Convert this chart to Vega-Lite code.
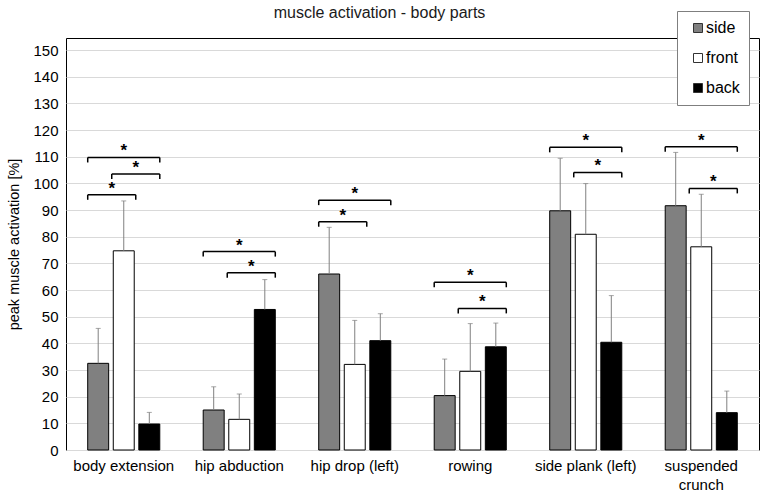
{
  "$schema": "https://vega.github.io/schema/vega-lite/v6.json",
  "width": 693,
  "height": 412,
  "autosize": {"type": "none"},
  "padding": {"left": 66, "top": 38, "right": 7, "bottom": 50},
  "config": {
    "font": "Liberation Sans",
    "view": {"stroke": "#000", "strokeWidth": 1},
    "axisY": {
      "titleFontSize": 14.5,
      "titleFontWeight": "normal",
      "titleColor": "#000",
      "titlePadding": 11,
      "labelFontSize": 15,
      "labelColor": "#000",
      "labelPadding": 8,
      "ticks": false,
      "domain": false,
      "gridColor": "#d9d9d9",
      "gridWidth": 1
    }
  },
  "title": {"text": "muscle activation - body parts", "fontSize": 16, "fontWeight": "normal", "color": "#1a1a1a", "dx": -33, "dy": 20, "offset": 10},
  "datasets": {
    "bars": [
      {"exercise": "body extension", "position": "side", "mean": 32.5, "upper": 45.6},
      {"exercise": "body extension", "position": "front", "mean": 74.7, "upper": 93.4},
      {"exercise": "body extension", "position": "back", "mean": 9.75, "upper": 14.1},
      {"exercise": "hip abduction", "position": "side", "mean": 15.0, "upper": 23.7},
      {"exercise": "hip abduction", "position": "front", "mean": 11.5, "upper": 21.0},
      {"exercise": "hip abduction", "position": "back", "mean": 52.7, "upper": 63.9},
      {"exercise": "hip drop (left)", "position": "side", "mean": 66.0, "upper": 83.5},
      {"exercise": "hip drop (left)", "position": "front", "mean": 32.1, "upper": 48.6},
      {"exercise": "hip drop (left)", "position": "back", "mean": 41.0, "upper": 51.1},
      {"exercise": "rowing", "position": "side", "mean": 20.4, "upper": 34.1},
      {"exercise": "rowing", "position": "front", "mean": 29.5, "upper": 47.4},
      {"exercise": "rowing", "position": "back", "mean": 38.7, "upper": 47.6},
      {"exercise": "side plank (left)", "position": "side", "mean": 89.7, "upper": 109.4},
      {"exercise": "side plank (left)", "position": "front", "mean": 80.9, "upper": 99.9},
      {"exercise": "side plank (left)", "position": "back", "mean": 40.4, "upper": 57.9},
      {"exercise": "suspended crunch", "position": "side", "mean": 91.6, "upper": 111.6},
      {"exercise": "suspended crunch", "position": "front", "mean": 76.2, "upper": 95.9},
      {"exercise": "suspended crunch", "position": "back", "mean": 14.0, "upper": 22.1}
    ],
    "brackets": [
      {"exercise": "body extension", "id": "be1", "pos": "p0", "y": 109.7},
      {"exercise": "body extension", "id": "be1", "pos": "p6", "y": 109.7},
      {"exercise": "body extension", "id": "be2", "pos": "p2", "y": 103.5},
      {"exercise": "body extension", "id": "be2", "pos": "p6", "y": 103.5},
      {"exercise": "body extension", "id": "be3", "pos": "p0", "y": 95.7},
      {"exercise": "body extension", "id": "be3", "pos": "p4", "y": 95.7},
      {"exercise": "hip abduction", "id": "ha1", "pos": "p0", "y": 74.4},
      {"exercise": "hip abduction", "id": "ha1", "pos": "p6", "y": 74.4},
      {"exercise": "hip abduction", "id": "ha2", "pos": "p2", "y": 66.5},
      {"exercise": "hip abduction", "id": "ha2", "pos": "p6", "y": 66.5},
      {"exercise": "hip drop (left)", "id": "hd1", "pos": "p0", "y": 93.7},
      {"exercise": "hip drop (left)", "id": "hd1", "pos": "p6", "y": 93.7},
      {"exercise": "hip drop (left)", "id": "hd2", "pos": "p0", "y": 85.6},
      {"exercise": "hip drop (left)", "id": "hd2", "pos": "p4", "y": 85.6},
      {"exercise": "rowing", "id": "ro1", "pos": "p0", "y": 62.9},
      {"exercise": "rowing", "id": "ro1", "pos": "p6", "y": 62.9},
      {"exercise": "rowing", "id": "ro2", "pos": "p2", "y": 53.1},
      {"exercise": "rowing", "id": "ro2", "pos": "p6", "y": 53.1},
      {"exercise": "side plank (left)", "id": "sp1", "pos": "p0", "y": 113.5},
      {"exercise": "side plank (left)", "id": "sp1", "pos": "p6", "y": 113.5},
      {"exercise": "side plank (left)", "id": "sp2", "pos": "p2", "y": 104.1},
      {"exercise": "side plank (left)", "id": "sp2", "pos": "p6", "y": 104.1},
      {"exercise": "suspended crunch", "id": "sc1", "pos": "p0", "y": 113.7},
      {"exercise": "suspended crunch", "id": "sc1", "pos": "p6", "y": 113.7},
      {"exercise": "suspended crunch", "id": "sc2", "pos": "p2", "y": 98.1},
      {"exercise": "suspended crunch", "id": "sc2", "pos": "p6", "y": 98.1}
    ],
    "stars": [
      {"exercise": "body extension", "pos": "p3", "y": 109.7, "label": "*"},
      {"exercise": "body extension", "pos": "p4", "y": 103.5, "label": "*"},
      {"exercise": "body extension", "pos": "p2", "y": 95.7, "label": "*"},
      {"exercise": "hip abduction", "pos": "p3", "y": 74.4, "label": "*"},
      {"exercise": "hip abduction", "pos": "p4", "y": 66.5, "label": "*"},
      {"exercise": "hip drop (left)", "pos": "p3", "y": 93.7, "label": "*"},
      {"exercise": "hip drop (left)", "pos": "p2", "y": 85.6, "label": "*"},
      {"exercise": "rowing", "pos": "p3", "y": 62.9, "label": "*"},
      {"exercise": "rowing", "pos": "p4", "y": 53.1, "label": "*"},
      {"exercise": "side plank (left)", "pos": "p3", "y": 113.5, "label": "*"},
      {"exercise": "side plank (left)", "pos": "p4", "y": 104.1, "label": "*"},
      {"exercise": "suspended crunch", "pos": "p3", "y": 113.7, "label": "*"},
      {"exercise": "suspended crunch", "pos": "p4", "y": 98.1, "label": "*"}
    ]
  },
  "encoding": {
    "x": {
      "field": "exercise",
      "type": "nominal",
      "sort": ["body extension", "hip abduction", "hip drop (left)", "rowing", "side plank (left)", "suspended crunch"],
      "scale": {"paddingInner": 0.376, "paddingOuter": 0.188},
      "axis": {
        "title": null,
        "labelAngle": 0,
        "labelFontSize": 15,
        "labelColor": "#000",
        "ticks": false,
        "domain": false,
        "labelPadding": 8,
        "labelLineHeight": 19,
        "labelExpr": "datum.value == 'suspended crunch' ? ['suspended', 'crunch'] : datum.value"
      }
    }
  },
  "layer": [
    {
      "data": {"name": "bars"},
      "mark": {"type": "bar", "stroke": "#000", "strokeWidth": 1},
      "encoding": {
        "xOffset": {"field": "position", "type": "nominal", "sort": ["side", "front", "back"], "scale": {"domain": ["side", "front", "back"], "paddingInner": 0.18, "paddingOuter": 0}},
        "y": {
          "field": "mean",
          "type": "quantitative",
          "scale": {"domain": [0, 154.5], "nice": false},
          "axis": {"title": "peak muscle activation [%]", "values": [0, 10, 20, 30, 40, 50, 60, 70, 80, 90, 100, 110, 120, 130, 140, 150]}
        },
        "fill": {
          "field": "position",
          "type": "nominal",
          "scale": {"domain": ["side", "front", "back"], "range": ["#808080", "#ffffff", "#000000"]},
          "legend": {
            "title": null,
            "orient": "none",
            "legendX": 611,
            "legendY": -27,
            "symbolType": "square",
            "symbolSize": 81,
            "symbolStrokeColor": "#333",
            "symbolStrokeWidth": 1,
            "symbolOffset": 4,
            "labelFontSize": 16,
            "labelColor": "#000",
            "labelOffset": 0,
            "columnPadding": 0,
            "strokeColor": "#7f7f7f",
            "fillColor": "#ffffff",
            "padding": 9,
            "rowPadding": 14
          }
        }
      }
    },
    {
      "data": {"name": "bars"},
      "mark": {"type": "rule", "color": "#808080", "strokeWidth": 1},
      "encoding": {
        "xOffset": {"field": "position", "type": "nominal", "sort": ["side", "front", "back"], "scale": {"domain": ["side", "front", "back"], "paddingInner": 0.18, "paddingOuter": 0}},
        "y": {"field": "mean", "type": "quantitative", "scale": {"domain": [0, 154.5], "nice": false}, "axis": {"title": "peak muscle activation [%]", "values": [0, 10, 20, 30, 40, 50, 60, 70, 80, 90, 100, 110, 120, 130, 140, 150]}},
        "y2": {"field": "upper"}
      }
    },
    {
      "data": {"name": "bars"},
      "mark": {"type": "tick", "orient": "horizontal", "color": "#808080", "size": 5, "thickness": 1},
      "encoding": {
        "xOffset": {"field": "position", "type": "nominal", "sort": ["side", "front", "back"], "scale": {"domain": ["side", "front", "back"], "paddingInner": 0.18, "paddingOuter": 0}},
        "y": {"field": "upper", "type": "quantitative", "scale": {"domain": [0, 154.5], "nice": false}, "axis": {"title": "peak muscle activation [%]", "values": [0, 10, 20, 30, 40, 50, 60, 70, 80, 90, 100, 110, 120, 130, 140, 150]}}
      }
    },
    {
      "data": {"name": "brackets"},
      "mark": {"type": "line", "color": "#000", "strokeWidth": 1.5},
      "encoding": {
        "xOffset": {"field": "pos", "type": "nominal", "scale": {"type": "point", "padding": 0, "domain": ["p0", "p1", "p2", "p3", "p4", "p5", "p6"]}},
        "y": {"field": "y", "type": "quantitative", "scale": {"domain": [0, 154.5], "nice": false}, "axis": {"title": "peak muscle activation [%]", "values": [0, 10, 20, 30, 40, 50, 60, 70, 80, 90, 100, 110, 120, 130, 140, 150]}},
        "detail": {"field": "id"}
      }
    },
    {
      "data": {"name": "brackets"},
      "mark": {"type": "rule", "color": "#000", "strokeWidth": 1.5, "y2Offset": 5},
      "encoding": {
        "xOffset": {"field": "pos", "type": "nominal", "scale": {"type": "point", "padding": 0, "domain": ["p0", "p1", "p2", "p3", "p4", "p5", "p6"]}},
        "y": {"field": "y", "type": "quantitative", "scale": {"domain": [0, 154.5], "nice": false}, "axis": {"title": "peak muscle activation [%]", "values": [0, 10, 20, 30, 40, 50, 60, 70, 80, 90, 100, 110, 120, 130, 140, 150]}},
        "y2": {"field": "y"}
      }
    },
    {
      "data": {"name": "stars"},
      "mark": {"type": "text", "color": "#000", "fontSize": 17, "fontWeight": "bold", "baseline": "alphabetic", "dy": -1},
      "encoding": {
        "xOffset": {"field": "pos", "type": "nominal", "scale": {"type": "point", "padding": 0, "domain": ["p0", "p1", "p2", "p3", "p4", "p5", "p6"]}},
        "y": {"field": "y", "type": "quantitative", "scale": {"domain": [0, 154.5], "nice": false}, "axis": {"title": "peak muscle activation [%]", "values": [0, 10, 20, 30, 40, 50, 60, 70, 80, 90, 100, 110, 120, 130, 140, 150]}},
        "text": {"field": "label"}
      }
    }
  ],
  "resolve": {"scale": {"xOffset": "independent"}}
}
